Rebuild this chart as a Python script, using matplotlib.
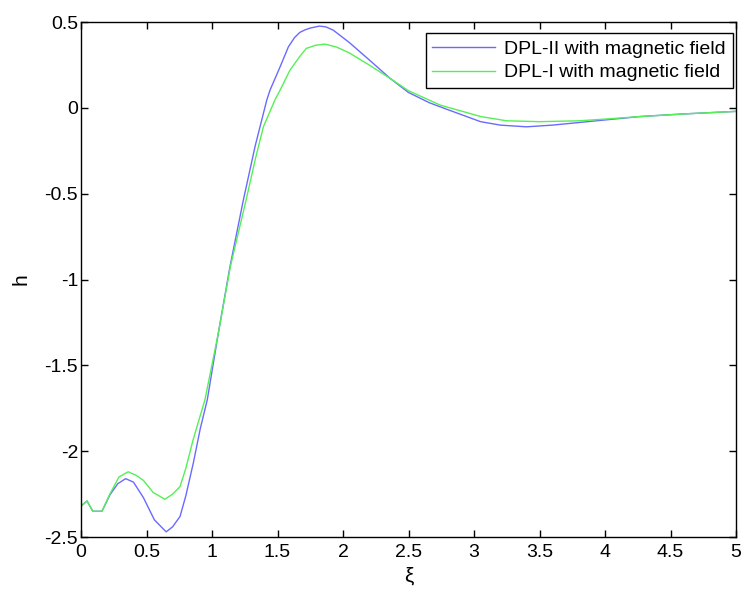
import matplotlib.pyplot as plt

# DPL-II with magnetic field (blue)
xi_dpl2 = [0.0, 0.046, 0.09, 0.16, 0.22, 0.28, 0.34, 0.40, 0.476, 0.56, 0.65,
           0.70, 0.756, 0.80, 0.857, 0.91, 0.964, 1.048, 1.137, 1.239, 1.33,
           1.418, 1.443, 1.52, 1.583, 1.63, 1.67, 1.71, 1.748, 1.82, 1.87,
           1.926, 2.05, 2.2, 2.36, 2.5, 2.66, 2.8, 3.05, 3.2, 3.4, 3.6, 3.8,
           4.0, 4.27, 4.6, 5.0]
h_dpl2 = [-2.32, -2.29, -2.35, -2.35, -2.255, -2.19, -2.16, -2.18, -2.27,
          -2.40, -2.47, -2.44, -2.38, -2.26, -2.07, -1.87, -1.70, -1.313,
          -0.925, -0.537, -0.22, 0.046, 0.104, 0.24, 0.356, 0.41, 0.44,
          0.455, 0.465, 0.477, 0.472, 0.453, 0.38, 0.28, 0.172, 0.09, 0.03,
          -0.01, -0.08, -0.10, -0.11, -0.10, -0.085, -0.07, -0.05, -0.035,
          -0.02]

# DPL-I with magnetic field (green)
xi_dpl1 = [0.0, 0.046, 0.09, 0.16, 0.22, 0.29, 0.36, 0.42, 0.476, 0.55, 0.64,
           0.70, 0.756, 0.80, 0.857, 0.946, 1.048, 1.14, 1.265, 1.33, 1.392,
           1.48, 1.52, 1.595, 1.67, 1.72, 1.79, 1.86, 1.95, 2.05, 2.2, 2.36,
           2.5, 2.66, 2.74, 3.05, 3.25, 3.5, 3.8, 4.0, 4.27, 4.6, 5.0]
h_dpl1 = [-2.32, -2.29, -2.35, -2.35, -2.25, -2.15, -2.12, -2.14, -2.17,
          -2.24, -2.28, -2.25, -2.206, -2.10, -1.93, -1.70, -1.313, -0.925,
          -0.52, -0.30, -0.11, 0.046, 0.104, 0.22, 0.30, 0.347, 0.365, 0.372,
          0.355, 0.32, 0.25, 0.172, 0.10, 0.045, 0.017, -0.05, -0.075, -0.08,
          -0.075, -0.065, -0.05, -0.035, -0.02]

x_ticks = [0, 0.5, 1, 1.5, 2, 2.5, 3, 3.5, 4, 4.5, 5]
x_tick_labels = ["0", "0.5", "1", "1.5", "2", "2.5", "3", "3.5", "4", "4.5", "5"]
y_ticks = [-2.5, -2, -1.5, -1, -0.5, 0, 0.5]
y_tick_labels = ["-2.5", "-2", "-1.5", "-1", "-0.5", "0", "0.5"]

plt.rcParams["font.family"] = ["Liberation Sans", "DejaVu Sans"]

fig = plt.figure(figsize=(7.46, 5.98), dpi=100)
ax = fig.add_axes([0.1086, 0.102, 0.878, 0.861])

ax.plot(xi_dpl2, h_dpl2, color="#6a6aff", linewidth=1.0,
        label="DPL-II with magnetic field")
ax.plot(xi_dpl1, h_dpl1, color="#55f055", linewidth=1.0,
        label="DPL-I with magnetic field")

ax.set_xlim(0, 5)
ax.set_ylim(-2.5, 0.5)
ax.set_xticks(x_ticks)
ax.set_xticklabels(x_tick_labels)
ax.set_yticks(y_ticks)
ax.set_yticklabels(y_tick_labels)
ax.tick_params(direction="in", length=5, width=1, labelsize=14,
               top=True, right=True)
ax.tick_params(axis="x", pad=5)
ax.tick_params(axis="y", pad=2)
for spine in ax.spines.values():
    spine.set_linewidth(1.0)

ax.set_xlabel("ξ", fontsize=15, labelpad=4)
ax.set_ylabel("h", fontsize=15, labelpad=10)

leg = ax.legend(loc="upper right", bbox_to_anchor=(0.995, 0.978),
                fontsize=14, frameon=True, fancybox=False, framealpha=1,
                edgecolor="black", handlelength=3.2, borderaxespad=0,
                handletextpad=0.5, labelspacing=0.3, borderpad=0.35)
leg.get_frame().set_linewidth(1.0)

fig.savefig("out.png", dpi=100)
